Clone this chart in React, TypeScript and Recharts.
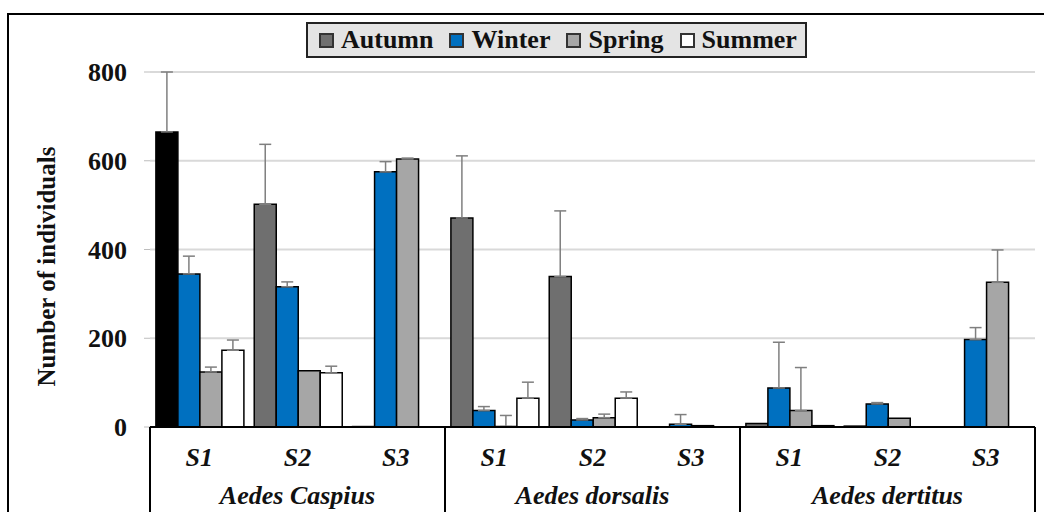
import React from "react";
import { BarChart, Bar, XAxis, YAxis, CartesianGrid, ErrorBar, Cell } from "recharts";

const species = ["Aedes Caspius", "Aedes dorsalis", "Aedes dertitus"];
const sites = ["S1", "S2", "S3"];
const yTicks = [0, 200, 400, 600, 800];

const autumn = [665, 502, 1, 471, 339, 0, 8, 2, 0];
const winter = [345, 316, 575, 37, 16, 6, 88, 52, 197];
const spring = [124, 127, 604, 1, 21, 3, 37, 20, 326];
const summer = [173, 122, 0, 65, 65, 0, 3, 0, 0];

const autumnErr = [135, 135, null, 140, 148, null, null, null, null];
const winterErr = [40, 11, 23, 9, 3, 22, 103, 3, 27];
const springErr = [11, null, 2, 25, 8, null, 97, null, 73];
const summerErr = [23, 15, null, 36, 14, null, null, null, null];

const seasons = [
  { key: "autumn", name: "Autumn", fill: "#6f6f6f" },
  { key: "winter", name: "Winter", fill: "#0070c0" },
  { key: "spring", name: "Spring", fill: "#a6a6a6" },
  { key: "summer", name: "Summer", fill: "#ffffff" },
];

const up = (e: number | null) => (e == null ? null : [0, e]);

const rows = autumn.map((_, i) => ({
  id: `${species[Math.floor(i / 3)]}-${sites[i % 3]}`,
  site: sites[i % 3],
  species: species[Math.floor(i / 3)],
  autumn: autumn[i],
  winter: winter[i],
  spring: spring[i],
  summer: summer[i],
  autumnErr: up(autumnErr[i]),
  winterErr: up(winterErr[i]),
  springErr: up(springErr[i]),
  summerErr: up(summerErr[i]),
}));

const W = 1044;
const H = 512;
const M = { top: 72, right: 9, bottom: 0, left: 100 };
const Y_W = 50;
const X_H = 85;
const PLOT_W = W - M.left - Y_W - M.right;
const FONT = "'Liberation Serif', 'Times New Roman', serif";

const XTick = (props: any) => {
  const { x, y, payload } = props;
  const index = payload.index;
  const bw = PLOT_W / rows.length;
  const row = rows[index];
  return (
    <g>
      <text x={x} y={y + 39} textAnchor="middle" fontFamily={FONT} fontWeight="bold" fontStyle="italic" fontSize={26} fill="#111">
        {row.site}
      </text>
      {index % 3 === 1 && (
        <text x={x} y={y + 77} textAnchor="middle" fontFamily={FONT} fontWeight="bold" fontStyle="italic" fontSize={26} fill="#111">
          {row.species}
        </text>
      )}
      {index % 3 === 0 && (
        <line x1={x - bw / 2} y1={y} x2={x - bw / 2} y2={H} stroke="#000" strokeWidth={2} />
      )}
      {index === rows.length - 1 && (
        <line x1={x + bw / 2} y1={y} x2={x + bw / 2} y2={H} stroke="#000" strokeWidth={2} />
      )}
    </g>
  );
};

const YLabel = (props: any) => {
  const vb = props.viewBox || { x: M.left, y: M.top, width: Y_W, height: 355 };
  const cx = vb.x - 54;
  const cy = vb.y + vb.height / 2 + 17;
  return (
    <text x={cx} y={cy} transform={`rotate(-90, ${cx}, ${cy})`} textAnchor="middle" dominantBaseline="central" fontFamily={FONT} fontWeight="bold" fontSize={25} fill="#111">
      Number of individuals
    </text>
  );
};

const LegendBox = () => (
  <div
    style={{
      position: "absolute",
      left: 306,
      top: 22,
      display: "flex",
      alignItems: "center",
      background: "#e4e4e4",
      border: "2px solid #222",
      height: 32,
      width: 486,
      boxSizing: "content-box",
      paddingLeft: 11,
      fontFamily: FONT,
      fontWeight: "bold",
      fontSize: 26,
      color: "#111",
    }}
  >
    {seasons.map((s, i) => (
      <div key={s.key} style={{ display: "flex", alignItems: "center", marginRight: i < 3 ? 16 : 0 }}>
        <div style={{ width: 11, height: 11, background: s.fill, border: "2px solid #333", marginRight: 7 }} />
        <span style={{ lineHeight: "32px" }}>{s.name}</span>
      </div>
    ))}
  </div>
);

export default function App() {
  return (
    <div style={{ position: "absolute", left: 0, top: 0, width: W, height: H, background: "#fff", overflow: "hidden" }}>
      <div style={{ position: "absolute", left: 7, top: 13, width: 1040, height: 520, border: "2px solid #000", boxSizing: "border-box" }} />
      <BarChart width={W} height={H} data={rows} margin={M} barCategoryGap="6%" barGap={0}>
        <CartesianGrid vertical={false} stroke="#d9d9d9" strokeWidth={2} />
        <XAxis
          dataKey="id"
          height={X_H}
          interval={0}
          tickSize={0}
          tickMargin={0}
          tickLine={false}
          axisLine={{ stroke: "#000", strokeWidth: 2 }}
          tick={<XTick />}
        />
        <YAxis
          width={Y_W}
          domain={[0, 800]}
          ticks={yTicks}
          allowDataOverflow
          axisLine={false}
          tickLine={{ stroke: "#bdbdbd" }}
          tickSize={6}
          tickMargin={17}
          tick={{ fontFamily: FONT, fontWeight: "bold", fontSize: 26, fill: "#111" }}
          label={<YLabel />}
        />
        {seasons.map((s) => (
          <Bar key={s.key} dataKey={s.key} name={s.name} fill={s.fill} stroke="#000" strokeWidth={1.5} isAnimationActive={false}>
            {s.key === "autumn" && rows.map((r, i) => <Cell key={r.id} fill={i === 0 ? "#000" : s.fill} />)}
            <ErrorBar dataKey={`${s.key}Err`} width={6} stroke="#7f7f7f" strokeWidth={1.5} direction="y" />
          </Bar>
        ))}
      </BarChart>
      <LegendBox />
    </div>
  );
}
